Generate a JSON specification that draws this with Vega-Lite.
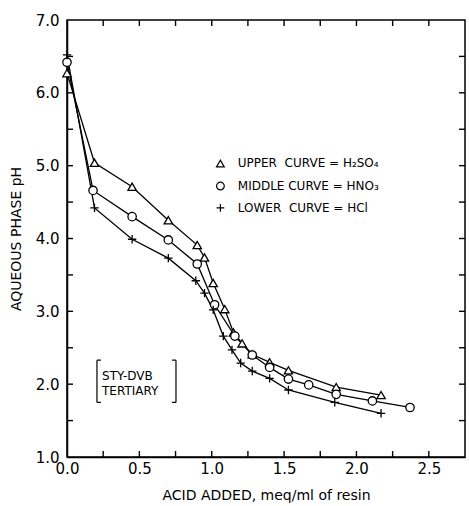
{
  "$schema": "https://vega.github.io/schema/vega-lite/v6.json",
  "width": 398,
  "height": 437,
  "autosize": {"type": "none"},
  "padding": {"left": 67, "top": 20, "right": 4, "bottom": 49},
  "background": "white",
  "config": {
    "font": "DejaVu Sans",
    "view": {"stroke": "black", "strokeWidth": 1.5},
    "axis": {
      "grid": false,
      "domainColor": "black",
      "domainWidth": 1.5,
      "labelColor": "black",
      "titleColor": "black",
      "labelFont": "DejaVu Sans",
      "titleFont": "DejaVu Sans",
      "labelFontSize": 15,
      "titleFontSize": 14,
      "titleFontWeight": "normal"
    }
  },
  "data": {"values": [
      {"added": 0.0, "pH": 6.27, "acid": "H2SO4"},
      {"added": 0.19, "pH": 5.04, "acid": "H2SO4"},
      {"added": 0.45, "pH": 4.71, "acid": "H2SO4"},
      {"added": 0.70, "pH": 4.25, "acid": "H2SO4"},
      {"added": 0.90, "pH": 3.91, "acid": "H2SO4"},
      {"added": 0.95, "pH": 3.74, "acid": "H2SO4"},
      {"added": 1.01, "pH": 3.39, "acid": "H2SO4"},
      {"added": 1.09, "pH": 3.03, "acid": "H2SO4"},
      {"added": 1.15, "pH": 2.71, "acid": "H2SO4"},
      {"added": 1.21, "pH": 2.56, "acid": "H2SO4"},
      {"added": 1.28, "pH": 2.41, "acid": "H2SO4"},
      {"added": 1.40, "pH": 2.30, "acid": "H2SO4"},
      {"added": 1.53, "pH": 2.19, "acid": "H2SO4"},
      {"added": 1.86, "pH": 1.96, "acid": "H2SO4"},
      {"added": 2.17, "pH": 1.85, "acid": "H2SO4"},
      {"added": 0.0, "pH": 6.42, "acid": "HNO3"},
      {"added": 0.18, "pH": 4.66, "acid": "HNO3"},
      {"added": 0.45, "pH": 4.30, "acid": "HNO3"},
      {"added": 0.70, "pH": 3.98, "acid": "HNO3"},
      {"added": 0.90, "pH": 3.65, "acid": "HNO3"},
      {"added": 1.02, "pH": 3.09, "acid": "HNO3"},
      {"added": 1.16, "pH": 2.66, "acid": "HNO3"},
      {"added": 1.28, "pH": 2.40, "acid": "HNO3"},
      {"added": 1.40, "pH": 2.23, "acid": "HNO3"},
      {"added": 1.53, "pH": 2.07, "acid": "HNO3"},
      {"added": 1.67, "pH": 1.99, "acid": "HNO3"},
      {"added": 1.86, "pH": 1.86, "acid": "HNO3"},
      {"added": 2.11, "pH": 1.77, "acid": "HNO3"},
      {"added": 2.37, "pH": 1.68, "acid": "HNO3"},
      {"added": 0.0, "pH": 6.52, "acid": "HCl"},
      {"added": 0.19, "pH": 4.42, "acid": "HCl"},
      {"added": 0.45, "pH": 3.99, "acid": "HCl"},
      {"added": 0.70, "pH": 3.73, "acid": "HCl"},
      {"added": 0.89, "pH": 3.42, "acid": "HCl"},
      {"added": 0.95, "pH": 3.25, "acid": "HCl"},
      {"added": 1.01, "pH": 3.02, "acid": "HCl"},
      {"added": 1.08, "pH": 2.66, "acid": "HCl"},
      {"added": 1.14, "pH": 2.47, "acid": "HCl"},
      {"added": 1.20, "pH": 2.29, "acid": "HCl"},
      {"added": 1.28, "pH": 2.18, "acid": "HCl"},
      {"added": 1.40, "pH": 2.08, "acid": "HCl"},
      {"added": 1.53, "pH": 1.92, "acid": "HCl"},
      {"added": 1.85, "pH": 1.75, "acid": "HCl"},
      {"added": 2.17, "pH": 1.60, "acid": "HCl"}
  ]},
  "datasets": {
    "legend": [
      {"sx": 1.06, "tx": 1.18, "ty": 5.03, "acid": "H2SO4", "label": "UPPER\u00a0\u00a0CURVE\u00a0=\u00a0H₂SO₄"},
      {"sx": 1.06, "tx": 1.18, "ty": 4.72, "acid": "HNO3", "label": "MIDDLE\u00a0CURVE\u00a0=\u00a0HNO₃"},
      {"sx": 1.06, "tx": 1.18, "ty": 4.42, "acid": "HCl", "label": "LOWER\u00a0\u00a0CURVE\u00a0=\u00a0HCl"}
    ],
    "brackets": [
      {"x1": 0.207, "y1": 2.33, "x2": 0.207, "y2": 1.75},
      {"x1": 0.207, "y1": 2.33, "x2": 0.235, "y2": 2.33},
      {"x1": 0.207, "y1": 1.75, "x2": 0.235, "y2": 1.75},
      {"x1": 0.753, "y1": 2.33, "x2": 0.753, "y2": 1.75},
      {"x1": 0.725, "y1": 2.33, "x2": 0.753, "y2": 2.33},
      {"x1": 0.725, "y1": 1.75, "x2": 0.753, "y2": 1.75}
    ],
    "notes": [
      {"nx": 0.242, "ny": 2.11, "text": "STY-DVB"},
      {"nx": 0.242, "ny": 1.91, "text": "TERTIARY"}
    ],
    "xticks": [
      {"v": 0.25}, {"v": 0.5}, {"v": 0.75}, {"v": 1.0}, {"v": 1.25},
      {"v": 1.5}, {"v": 1.75}, {"v": 2.0}, {"v": 2.25}, {"v": 2.5}
    ],
    "yticks": [
      {"v": 1.5}, {"v": 2.0}, {"v": 2.5}, {"v": 3.0}, {"v": 3.5}, {"v": 4.0},
      {"v": 4.5}, {"v": 5.0}, {"v": 5.5}, {"v": 6.0}, {"v": 6.5}
    ]
  },
  "layer": [
    {
      "mark": {"type": "line", "color": "black", "strokeWidth": 1.3},
      "encoding": {
        "x": {
          "field": "added", "type": "quantitative",
          "scale": {"domain": [0, 2.75], "nice": false, "zero": false},
          "axis": {
            "orient": "bottom",
            "values": [0, 0.5, 1, 1.5, 2, 2.5],
            "format": ".1f",
            "ticks": false,
            "labelFlush": false,
            "labelPadding": 4,
            "title": "ACID ADDED, meq/ml of resin",
            "titlePadding": 12
          }
        },
        "y": {
          "field": "pH", "type": "quantitative",
          "scale": {"domain": [1, 7], "nice": false, "zero": false},
          "axis": {
            "orient": "left",
            "values": [1, 2, 3, 4, 5, 6, 7],
            "format": ".1f",
            "ticks": false,
            "labelFlush": false,
            "labelPadding": 8,
            "title": "AQUEOUS PHASE pH",
            "titlePadding": 12
          }
        },
        "detail": {"field": "acid"}
      }
    },
    {
      "mark": {"type": "point", "filled": true, "fill": "white", "stroke": "black", "strokeWidth": 1.3, "size": 70, "opacity": 1},
      "encoding": {
        "x": {"field": "added", "type": "quantitative"},
        "y": {"field": "pH", "type": "quantitative"},
        "shape": {"field": "acid", "type": "nominal",
          "scale": {"domain": ["H2SO4", "HNO3", "HCl"], "range": ["triangle-up", "circle", "M-1,0H1M0,-1V1"]},
          "legend": null}
      }
    },
    {
      "data": {"name": "xticks"},
      "mark": {"type": "tick", "orient": "vertical", "size": 12, "thickness": 1.4, "color": "black", "opacity": 1, "clip": true},
      "encoding": {
        "x": {"field": "v", "type": "quantitative"},
        "y": {"datum": 1}
      }
    },
    {
      "data": {"name": "xticks"},
      "mark": {"type": "tick", "orient": "vertical", "size": 12, "thickness": 1.4, "color": "black", "opacity": 1, "clip": true},
      "encoding": {
        "x": {"field": "v", "type": "quantitative"},
        "y": {"datum": 7}
      }
    },
    {
      "data": {"name": "yticks"},
      "mark": {"type": "tick", "orient": "horizontal", "size": 12, "thickness": 1.4, "color": "black", "opacity": 1, "clip": true},
      "encoding": {
        "y": {"field": "v", "type": "quantitative"},
        "x": {"datum": 0}
      }
    },
    {
      "data": {"name": "yticks"},
      "mark": {"type": "tick", "orient": "horizontal", "size": 12, "thickness": 1.4, "color": "black", "opacity": 1, "clip": true},
      "encoding": {
        "y": {"field": "v", "type": "quantitative"},
        "x": {"datum": 2.75}
      }
    },
    {
      "data": {"name": "legend"},
      "mark": {"type": "point", "filled": true, "fill": "white", "stroke": "black", "strokeWidth": 1.2, "size": 60, "opacity": 1},
      "encoding": {
        "x": {"field": "sx", "type": "quantitative"},
        "y": {"field": "ty", "type": "quantitative"},
        "shape": {"field": "acid", "type": "nominal", "legend": null}
      }
    },
    {
      "data": {"name": "legend"},
      "mark": {"type": "text", "align": "left", "baseline": "middle", "fontSize": 12, "color": "black"},
      "encoding": {
        "x": {"field": "tx", "type": "quantitative"},
        "y": {"field": "ty", "type": "quantitative"},
        "text": {"field": "label"}
      }
    },
    {
      "data": {"name": "brackets"},
      "mark": {"type": "rule", "color": "black", "strokeWidth": 1.2},
      "encoding": {
        "x": {"field": "x1", "type": "quantitative"},
        "y": {"field": "y1", "type": "quantitative"},
        "x2": {"field": "x2"},
        "y2": {"field": "y2"}
      }
    },
    {
      "data": {"name": "notes"},
      "mark": {"type": "text", "align": "left", "baseline": "middle", "fontSize": 12, "color": "black"},
      "encoding": {
        "x": {"field": "nx", "type": "quantitative"},
        "y": {"field": "ny", "type": "quantitative"},
        "text": {"field": "text"}
      }
    }
  ]
}
